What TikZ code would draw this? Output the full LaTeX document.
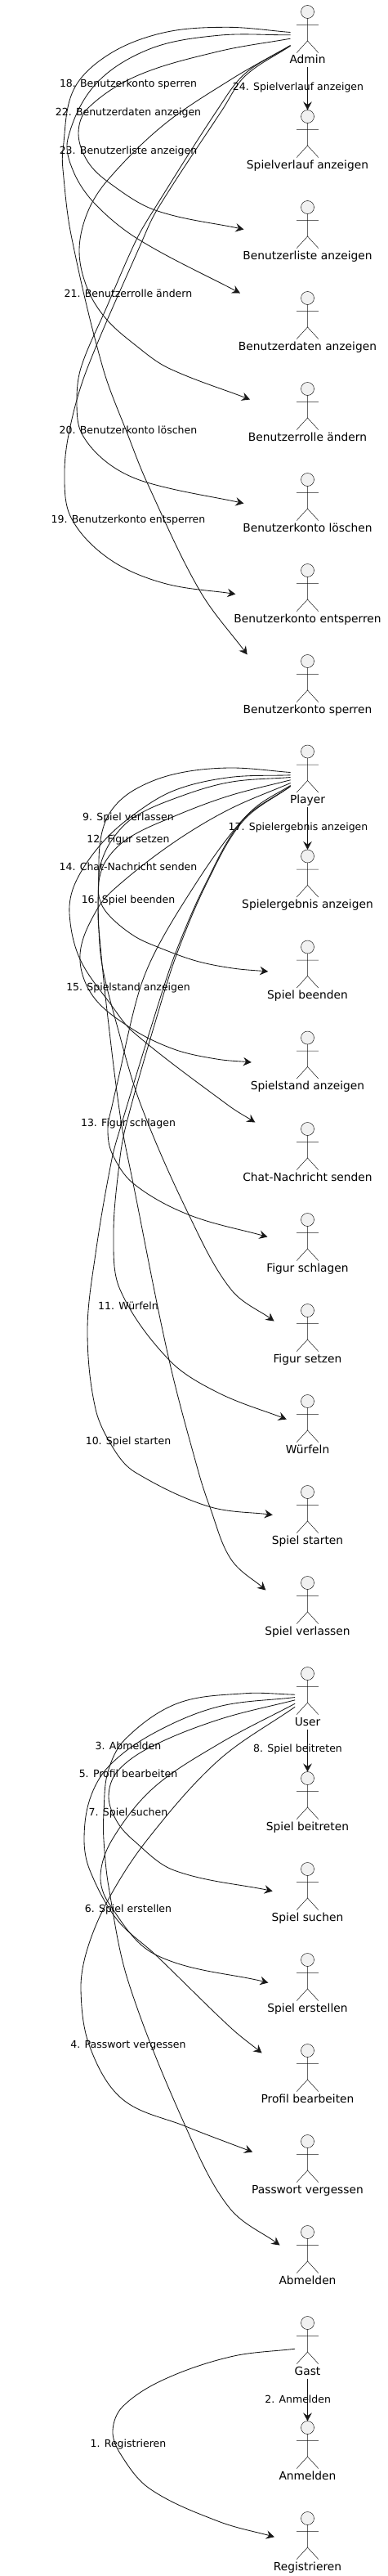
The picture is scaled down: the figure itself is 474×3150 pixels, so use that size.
\documentclass[tikz,border=0pt]{standalone}
\usepackage{fontspec}
\setmainfont{DejaVu Sans}
\usetikzlibrary{arrows.meta}
\definecolor{ink}{HTML}{181818}
\definecolor{headfill}{HTML}{F1F1F1}
\tikzset{
  actorlabel/.style={anchor=base,inner sep=0pt,outer sep=0pt,text height=71.5pt,text depth=4.5pt,font=\fontsize{13.8}{15}\selectfont,text=black},
  actorline/.style={draw=ink,line width=0.5pt},
  edgelabel/.style={inner sep=0pt,font=\fontsize{12.5}{14}\selectfont,text=black},
  conn/.style={draw=ink,line width=0.85pt,-{Stealth[length=10pt,width=10.5pt,inset=3.5pt]}},
}
\newcommand{\actor}[3]{%
  \filldraw[actorline,fill=headfill] (376.5,#2) circle[radius=8pt];
  \draw[actorline] (376.5,#2+8) -- (376.5,#2+35.5)
    (363.2,#2+16) -- (389.8,#2+16)
    (363.2,#2+50) -- (376.5,#2+35.5) -- (389.8,#2+50);
  \node[actorlabel] (#1) at (376.5,#2+63.5) {#3};
}
\makeatletter
\newcount\spn
\newcount\spi
\def\sp@store#1#2{%
  \expandafter\edef\csname spx\the\spn\endcsname{#1}%
  \expandafter\edef\csname spy\the\spn\endcsname{#2}}
\def\sp@split#1/#2\@nil{\advance\spn 1 \sp@store{#1}{#2}}
\def\sp@tan#1{%
  \ifnum#1>0 \edef\sp@a{\the\numexpr#1-1\relax}\else\edef\sp@a{#1}\fi
  \ifnum#1<\spn \edef\sp@b{\the\numexpr#1+1\relax}\else\edef\sp@b{#1}\fi
  \pgfmathsetmacro\sp@dx{\csname spx\sp@b\endcsname-(\csname spx\sp@a\endcsname)}%
  \pgfmathsetmacro\sp@dy{\csname spy\sp@b\endcsname-(\csname spy\sp@a\endcsname)}%
  \pgfmathsetmacro\sp@l{veclen(\sp@dx,\sp@dy)}%
  \pgfmathsetmacro\sptx{\sp@dx/\sp@l}%
  \pgfmathsetmacro\spty{\sp@dy/\sp@l}}
\newcommand\connect[7]{%
  \pgfpointanchor{#1}{west}\edef\sp@x{\the\pgf@x}\edef\sp@y{\the\pgf@y}%
  \spn=0
  \pgfmathsetmacro\sp@xx{\sp@x+#2}\pgfmathsetmacro\sp@yy{-(\sp@y)+#3}%
  \sp@store{\sp@xx}{\sp@yy}%
  \@for\sp@item:=#4\do{\expandafter\sp@split\sp@item\@nil}%
  \pgfpointanchor{#5}{west}\edef\sp@x{\the\pgf@x}\edef\sp@y{\the\pgf@y}%
  \advance\spn 1
  \pgfmathsetmacro\sp@xx{\sp@x+#6}\pgfmathsetmacro\sp@yy{-(\sp@y)+#7}%
  \sp@store{\sp@xx}{\sp@yy}%
  \edef\sp@path{([shift={(#2,#3)}]#1.west)}%
  \spi=0
  \loop\ifnum\spi<\spn
    \edef\sp@i{\the\spi}\edef\sp@j{\the\numexpr\spi+1\relax}%
    \pgfmathsetmacro\sp@ax{\csname spx\sp@i\endcsname}%
    \pgfmathsetmacro\sp@ay{\csname spy\sp@i\endcsname}%
    \pgfmathsetmacro\sp@bx{\csname spx\sp@j\endcsname}%
    \pgfmathsetmacro\sp@by{\csname spy\sp@j\endcsname}%
    \pgfmathsetmacro\sp@seg{veclen(\sp@bx-(\sp@ax),\sp@by-(\sp@ay))/3}%
    \sp@tan{\sp@i}%
    \pgfmathsetmacro\sp@cax{\sp@ax+\sptx*\sp@seg}%
    \pgfmathsetmacro\sp@cay{\sp@ay+\spty*\sp@seg}%
    \sp@tan{\sp@j}%
    \pgfmathsetmacro\sp@cbx{\sp@bx-\sptx*\sp@seg}%
    \pgfmathsetmacro\sp@cby{\sp@by-\spty*\sp@seg}%
    \ifnum\numexpr\spi+1\relax<\spn
      \edef\sp@end{(\sp@bx,\sp@by)}%
    \else
      \edef\sp@end{([shift={(#6,#7)}]#5.west)}%
    \fi
    \edef\sp@path{\sp@path\space .. controls (\sp@cax,\sp@cay) and (\sp@cbx,\sp@cby) .. \sp@end}%
    \advance\spi 1
  \repeat
  \edef\sp@do{\noexpand\draw[conn] \sp@path;}\sp@do}
\makeatother
\begin{document}
\begin{tikzpicture}[x=1pt,y=-1pt]
\useasboundingbox (0,0) rectangle (474,3150);
\actor{Admin}{14.5}{Admin}
\actor{Spielverlauf}{142.5}{Spielverlauf anzeigen}
\actor{Liste}{253.5}{Benutzerliste anzeigen}
\actor{Daten}{364.5}{Benutzerdaten anzeigen}
\actor{Rolle}{475.5}{Benutzerrolle ändern}
\actor{Loeschen}{586.5}{Benutzerkonto löschen}
\actor{Entsperren}{697.5}{Benutzerkonto entsperren}
\actor{Sperren}{808.5}{Benutzerkonto sperren}
\actor{Player}{919}{Player}
\actor{Ergebnis}{1047}{Spielergebnis anzeigen}
\actor{Beenden}{1158}{Spiel beenden}
\actor{Stand}{1269}{Spielstand anzeigen}
\actor{Chat}{1380.5}{Chat-Nachricht senden}
\actor{Schlagen}{1491.5}{Figur schlagen}
\actor{Setzen}{1602.5}{Figur setzen}
\actor{Wuerfeln}{1713.5}{Würfeln}
\actor{Starten}{1824.5}{Spiel starten}
\actor{Verlassen}{1935.5}{Spiel verlassen}
\actor{User}{2046.5}{User}
\actor{Beitreten}{2174.5}{Spiel beitreten}
\actor{Suchen}{2285.5}{Spiel suchen}
\actor{Erstellen}{2396.5}{Spiel erstellen}
\actor{Profil}{2507.5}{Profil bearbeiten}
\actor{Passwort}{2618.5}{Passwort vergessen}
\actor{Abmelden}{2729.5}{Abmelden}
\actor{Gast}{2840.5}{Gast}
\actor{Anmelden}{2968.5}{Anmelden}
\actor{Registrieren}{3079.5}{Registrieren}

% straight connectors
\draw[conn] (Admin.south) -- (Spielverlauf.north);
\draw[conn] (Player.south) -- (Ergebnis.north);
\draw[conn] (User.south) -- (Beitreten.north);
\draw[conn] (Gast.south) -- (Anmelden.north);

% Admin
\connect{Admin}{1}{-5}{277/33.3,200/40,133/66.7,90/110,77/183,77/207,87/287,126/450,157/533,180/590,245/723}{Sperren}{5}{-38}
\connect{Admin}{1}{-1.7}{267/43.3,183/60,117/103,83/170,90/210,117/250,170/293}{Daten}{2}{-36}
\connect{Admin}{1}{2.7}{267/63,167/93,107/133,96/163,107/197,133/223,190/257}{Liste}{1}{-3}
\connect{Admin}{1}{11}{283/97,200/153,132/220,107/260,97/307,107/353,130/390,167/423,206/450}{Rolle}{2}{-17}
\connect{Admin}{1}{11.3}{300/90,267/133,188/257,167/293,130/377,99/450,94/493,100/530,133/567,180/590}{Loeschen}{1}{-1}
\connect{Admin}{1}{11.6}{300/93,273/133,192/257,173/297,107/450,87/517,79/577,87/633,133/683,200/713}{Entsperren}{2}{-1}

% Player
\connect{Player}{0.6}{-4.5}{280/939,213/946.7,163/966.7,135/993,123/1027,120.7/1080,120/1120,122/1147,130/1227,148/1370,163/1447,207/1663,243/1800,257/1843,283/1907}{Verlassen}{1}{-21}
\connect{Player}{0.6}{1.5}{280/956.7,213/976.7,163/1000,137/1027,123/1057,120.7/1080,120.7/1130,125/1180,143/1253,172/1350,230/1483,283/1577}{Setzen}{1}{-17}
\connect{Player}{0.6}{-1.2}{280/950.7,213/966.7,163/996.7,123/1033,92/1080,85/1117,98/1173,137/1230,163/1262,280/1352}{Chat}{15}{-38}
\connect{Player}{0.6}{4.8}{280/973.3,213/998.3,157/1025,130/1052,120.7/1080,123/1103,136/1122,165/1145,193/1158,240/1175,285/1184}{Beenden}{1}{0}
\connect{Player}{0.6}{8.5}{280/990,213/1030,148/1080,120/1110,98/1167,113/1217,160/1257,213/1283,265/1295}{Stand}{1}{0}
\connect{Player}{0.6}{11.5}{313/987,280/1023,240/1080,193/1158,170/1213,143/1327,137.7/1350,132/1380,137/1410,163/1447,230/1485}{Schlagen}{1}{-9}
\connect{Player}{0.6}{12.5}{297/1003,252/1080,215/1165,190/1240,148/1377,137/1417,117/1533,107/1627,117/1723,140/1773,165/1800,255/1842}{Starten}{1}{-2}
\connect{Player}{0.6}{12.5}{297.5/1004,253/1080,217/1165,193/1240,154/1377,146/1423,139/1510,147/1577,207/1663,267/1703}{Wuerfeln}{1}{-8}

% User
\connect{User}{0.4}{-4.3}{300/2070.7,217/2083,153/2127,132/2167,127/2217,127/2250,133/2307,157/2423,227/2600,281/2700}{Abmelden}{1}{-14}
\connect{User}{0.4}{-1}{267/2087,187/2120,133/2160,110/2200,103/2250,110/2287,143/2347,190/2390,283/2480}{Profil}{1}{-27}
\connect{User}{0.4}{2.3}{267/2103,183/2137,143/2167,133/2197,143/2227,163/2250,213/2287}{Suchen}{1}{-3}
\connect{User}{0.4}{6.7}{267/2133,187/2187,137/2250,123/2293,133/2327,190/2390}{Erstellen}{1}{-2}
\connect{User}{0.4}{10.7}{267/2153,180/2250,133/2322,107/2383,99/2433,110/2503,150/2567,227/2600}{Passwort}{1}{-17}

% Gast
\connect{Gast}{0.4}{1.7}{283/2881.7,200/2910,150/2943,138/2972,147/3000,183/3043,267/3083}{Registrieren}{1}{-7.3}

% labels
\node[edgelabel] (l18) at (157,102.7) {18. Benutzerkonto sperren};
\node[edgelabel] (l22) at (157,138) {22. Benutzerdaten anzeigen};
\node[edgelabel] (l23) at (157,185.5) {23. Benutzerliste anzeigen};
\node[edgelabel] (l21) at (157,358.5) {21. Benutzerrolle ändern};
\node[edgelabel] (l20) at (157,525.5) {20. Benutzerkonto löschen};
\node[edgelabel] (l19) at (157,636.5) {19. Benutzerkonto entsperren};
\node[edgelabel] (l24) at (365,107.5) {24. Spielverlauf anzeigen};
\node[edgelabel] (l9) at (157,1000) {9. Spiel verlassen};
\node[edgelabel] (l12) at (157,1027.5) {12. Figur setzen};
\node[edgelabel] (l14) at (157,1059.5) {14. Chat-Nachricht senden};
\node[edgelabel] (l16) at (157,1101.5) {16. Spiel beenden};
\node[edgelabel] (l15) at (157,1208.5) {15. Spielstand anzeigen};
\node[edgelabel] (l13) at (157,1374.5) {13. Figur schlagen};
\node[edgelabel] (l11) at (157,1596.5) {11. Würfeln};
\node[edgelabel] (l10) at (157,1763) {10. Spiel starten};
\node[edgelabel] (l17) at (365,1012.5) {17. Spielergebnis anzeigen};
\node[edgelabel] (l3) at (157,2134.5) {3. Abmelden};
\node[edgelabel] (l5) at (157,2169) {5. Profil bearbeiten};
\node[edgelabel] (l7) at (157,2217) {7. Spiel suchen};
\node[edgelabel] (l6) at (157,2335) {6. Spiel erstellen};
\node[edgelabel] (l4) at (157,2501.5) {4. Passwort vergessen};
\node[edgelabel] (l8) at (364.5,2139) {8. Spiel beitreten};
\node[edgelabel] (l1) at (157,2989.5) {1. Registrieren};
\node[edgelabel] (l2) at (364.7,2933.5) {2. Anmelden};
\end{tikzpicture}
\end{document}
